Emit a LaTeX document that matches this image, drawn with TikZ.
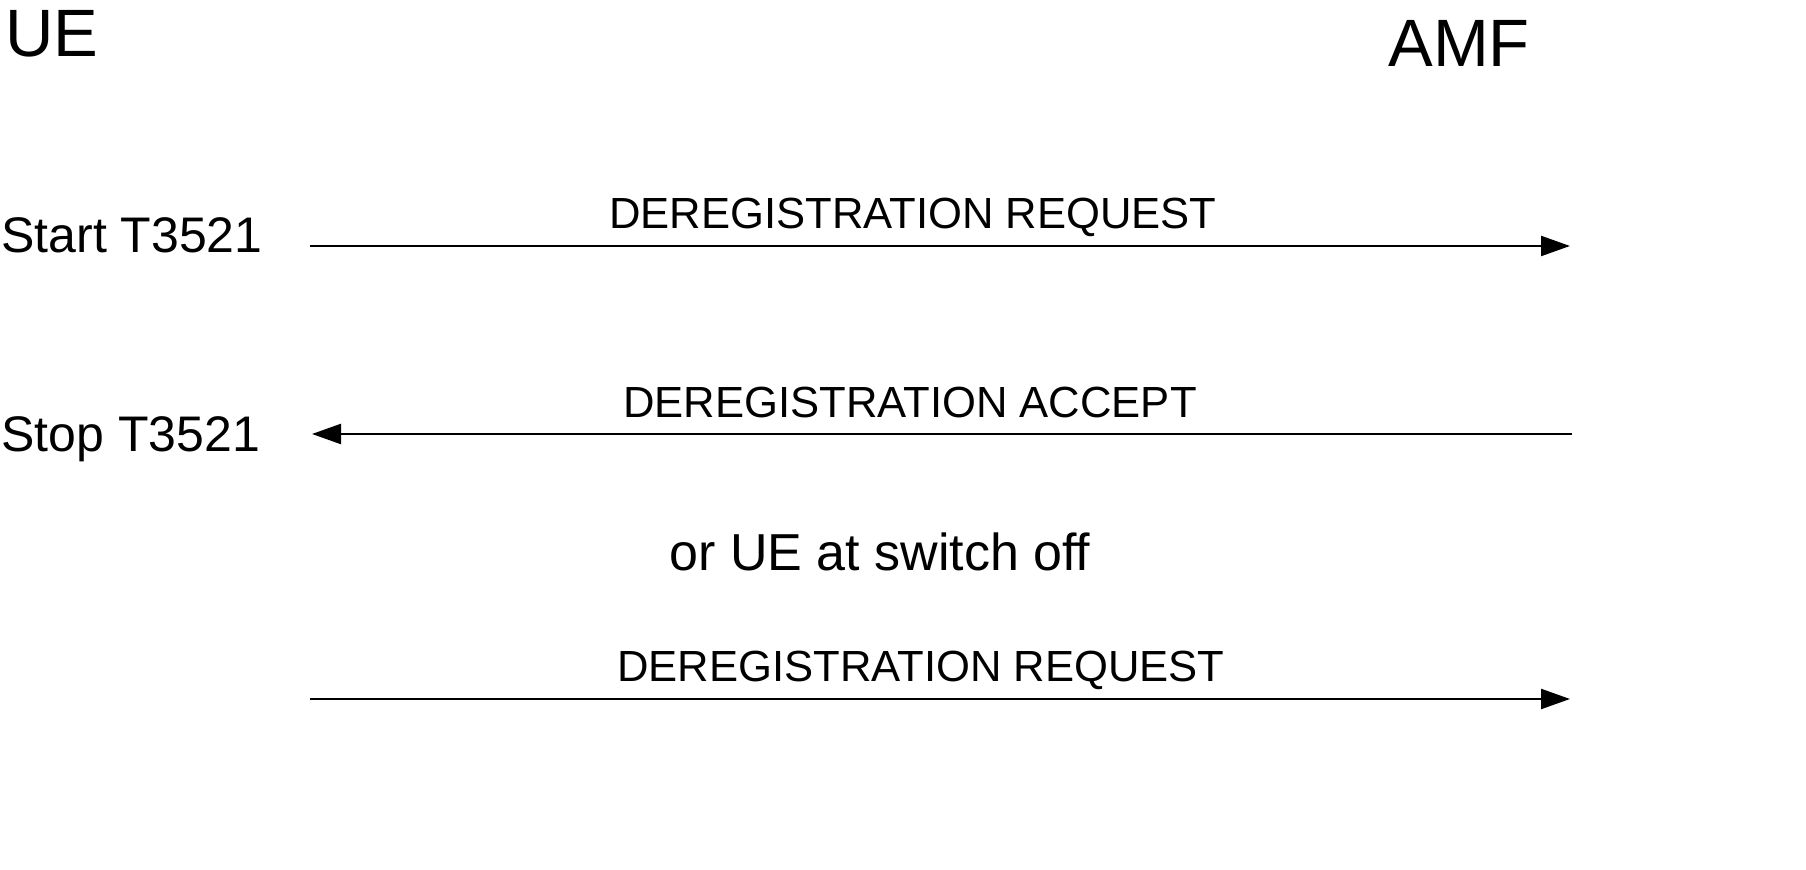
\documentclass[tikz,border=0pt]{standalone}
\usepackage{fontspec}
\setmainfont{Liberation Sans}
\usetikzlibrary{arrows.meta}

\begin{document}
\begin{tikzpicture}[x=0.5pt, y=-0.5pt,
entity/.style={anchor=base west, inner sep=0pt, font=\fontsize{33.5}{40}\selectfont},
timer/.style={anchor=base west, inner sep=0pt, font=\fontsize{25}{30}\selectfont},
msglabel/.style={anchor=base west, inner sep=0pt, font=\fontsize{21.8}{26}\selectfont},
note/.style={anchor=base west, inner sep=0pt, font=\fontsize{26}{31}\selectfont},
msg/.style={line width=1.15pt, -{Triangle[length=14.5pt, width=10pt]}},
]
\useasboundingbox (0,0) rectangle (1806,870);

\node[entity] (ue) at (5,57) {UE};
\node[entity] (amf) at (1388,67) {AMF};

\node[timer] (start) at (1,253) {Start T3521};
\node[timer] (stop) at (1,452) {Stop T3521};

\coordinate (ueA) at (310,246);
\coordinate (amfA) at (1570,246);
\coordinate (ueB) at (312,434);
\coordinate (amfB) at (1572,434);
\coordinate (ueC) at (310,699);
\coordinate (amfC) at (1570,699);

\draw[msg] (ueA) -- (amfA);
\draw[msg] (amfB) -- (ueB);
\draw[msg] (ueC) -- (amfC);

\node[msglabel] (reqA) at (609,229) {DEREGISTRATION REQUEST};
\node[msglabel] (accB) at (623,418) {DEREGISTRATION ACCEPT};
\node[note] (switchoff) at (669,571) {or UE at switch off};
\node[msglabel] (reqC) at (617,682) {DEREGISTRATION REQUEST};

\end{tikzpicture}
\end{document}
